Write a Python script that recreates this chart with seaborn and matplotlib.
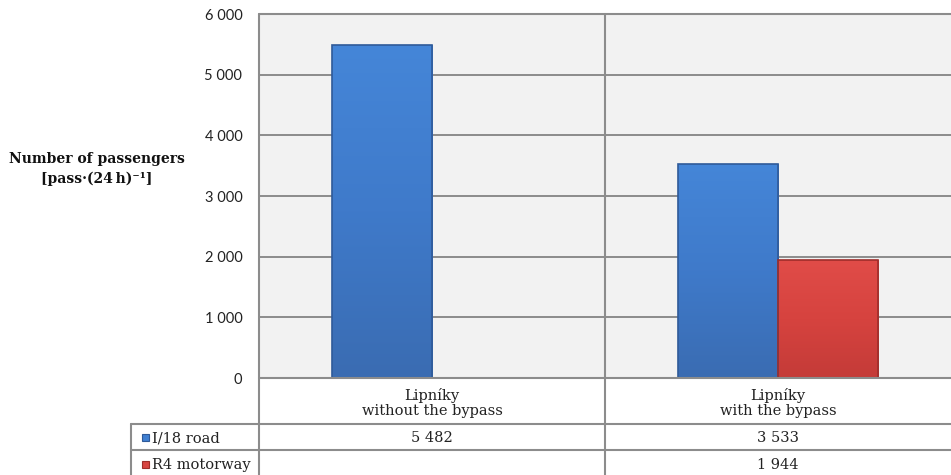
import numpy as np
import pandas as pd
import matplotlib
matplotlib.use("Agg")
import matplotlib.pyplot as plt
import seaborn as sns
from matplotlib.colors import LinearSegmentedColormap

# Data
categories = ["Lipníky\nwithout the bypass", "Lipníky\nwith the bypass"]
series_names = ["I/18 road", "R4 motorway"]
i18_values = [5482, 3533]
r4_values = [np.nan, 1944]
y_ticks = [0, 1000, 2000, 3000, 4000, 5000, 6000]

def fmt(v):
    return f"{int(v):,}".replace(",", " ")

rows = []
for cat, a, b in zip(categories, i18_values, r4_values):
    if not np.isnan(a):
        rows.append({"category": cat, "series": series_names[0], "value": a})
    if not np.isnan(b):
        rows.append({"category": cat, "series": series_names[1], "value": b})
df = pd.DataFrame(rows)

W, H = 951, 475
sns.set_theme(style="white")
serif = ["DejaVu Serif"]
plt.rcParams["font.family"] = serif

fig = plt.figure(figsize=(W / 100, H / 100), dpi=100)
fig.patch.set_facecolor("white")

px_left, px_right, px_top, px_bottom = 259, 951, 14, 378
ax = fig.add_axes([px_left / W, 1 - px_bottom / H,
                   (px_right - px_left) / W, (px_bottom - px_top) / H])
ax.set_facecolor("#F2F2F2")

colors = {"I/18 road": "#4080D2", "R4 motorway": "#D84541"}
sns.barplot(data=df, x="category", y="value", hue="series",
            hue_order=series_names, order=categories, palette=colors,
            width=0.58, gap=0, dodge=True, ax=ax, legend=False,
            edgecolor="none", zorder=3)

ax.set_xlim(-0.5, 1.5)
ax.set_ylim(0, 6000)
ax.set_yticks(y_ticks)
ax.set_yticklabels([fmt(t) for t in y_ticks], family=["Lato", "DejaVu Sans"],
                   fontsize=10.5, color="#222222")
ax.tick_params(axis="y", length=0, pad=12)
ax.set_xticks([])
ax.set_xlabel("")
ax.set_ylabel("")
for t in y_ticks:
    ax.axhline(t, color="#8C8C8C", lw=1.4, zorder=1)
for s in ax.spines.values():
    s.set_visible(False)

# Shaded bars: gentle vertical gradient clipped to each bar with a darker rim
grads = {
    "#4080D2": ("#4586D8", "#3F7ACA", "#3A6CB2", "#2F5A99"),
    "#D84541": ("#E04C48", "#D6433F", "#C43B38", "#9E2E2B"),
}
for p in list(ax.patches):
    h = p.get_height()
    if not np.isfinite(h) or h <= 0:
        continue
    fc = matplotlib.colors.to_hex(p.get_facecolor())
    key = min(grads, key=lambda k: np.sum((np.array(matplotlib.colors.to_rgb(k)) -
                                          np.array(matplotlib.colors.to_rgb(fc))) ** 2))
    top, mid, bot, rim = grads[key]
    cmap = LinearSegmentedColormap.from_list("g", [bot, mid, top])
    x0, w = p.get_x(), p.get_width()
    grad = np.linspace(0, 1, 256).reshape(-1, 1)
    im = ax.imshow(grad, extent=[x0, x0 + w, 0, h], origin="lower", aspect="auto",
                   cmap=cmap, zorder=4)
    im.set_clip_path(p)
    p.set_facecolor("none")
    p.set_edgecolor(rim)
    p.set_linewidth(1.2)
    p.set_zorder(5)
ax.set_xlim(-0.5, 1.5)
ax.set_ylim(0, 6000)

# Overlay in pixel coordinates for the frame and the data table
ov = fig.add_axes([0, 0, 1, 1], zorder=10)
ov.set_xlim(0, W)
ov.set_ylim(H, 0)
ov.axis("off")
ov.patch.set_alpha(0)

grey = "#8C8C8C"
lw = 1.5
ov.plot([px_left, W], [px_top, px_top], color=grey, lw=lw)
ov.plot([px_left, px_left], [px_top, H], color=grey, lw=lw)
ov.plot([605, 605], [px_top, H], color=grey, lw=lw)
ov.plot([px_left, W], [px_bottom, px_bottom], color=grey, lw=lw)
ov.plot([131, W], [424, 424], color=grey, lw=lw)
ov.plot([131, W], [450, 450], color=grey, lw=lw)
ov.plot([131, 131], [424, H], color=grey, lw=lw)

fs = 10.5
col_centers = [432, 778]
row_y = [438, 465]
txt_kw = dict(family=serif, fontsize=fs, color="#222222", ha="center")
for cx, cat in zip(col_centers, categories):
    ov.text(cx, 403, cat, va="center", linespacing=1.18, **txt_kw)
for cx, v in zip(col_centers, i18_values):
    if np.isfinite(v):
        ov.text(cx, row_y[0], fmt(v), va="center", **txt_kw)
for cx, v in zip(col_centers, r4_values):
    if np.isfinite(v):
        ov.text(cx, row_y[1], fmt(v), va="center", **txt_kw)

for yc, name in zip(row_y, series_names):
    base = colors[name]
    ov.add_patch(plt.Rectangle((142, yc - 4), 7, 7, facecolor=base,
                               edgecolor=grads[base][3], lw=0.8))
    ov.text(152, yc, name, va="center", ha="left", family=serif, fontsize=fs,
            color="#222222")

ov.text(97, 169, "Number of passengers\n[pass\u00b7(24\u2009h)\u207b\u00b9]",
        ha="center", va="center", family=serif, fontsize=10, fontweight="bold",
        color="#111111", linespacing=1.5)

fig.savefig("out.png", dpi=100)
